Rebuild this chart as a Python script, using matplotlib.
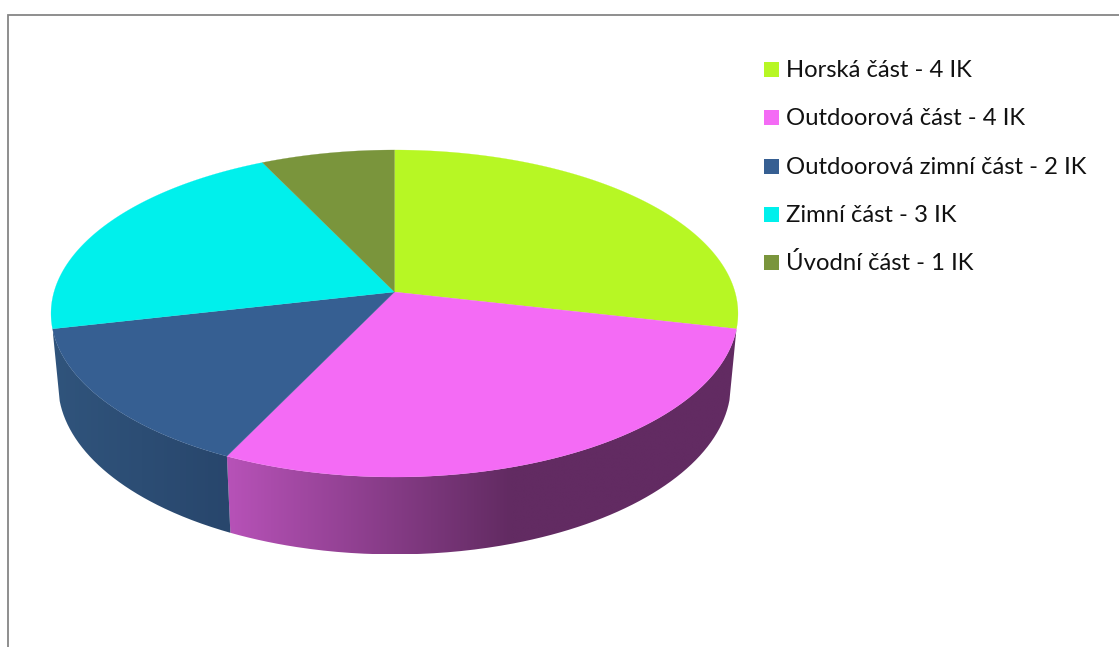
import numpy as np
import matplotlib
matplotlib.use("Agg")
import matplotlib.pyplot as plt
from matplotlib.patches import Polygon, Rectangle, PathPatch
from matplotlib.path import Path

# Pie data, in the order the slices go clockwise from the top.
labels = ["Horská část - 4 IK", "Outdoorová část - 4 IK", "Outdoorová zimní část - 2 IK",
          "Zimní část - 3 IK", "Úvodní část - 1 IK"]
values = [4, 4, 2, 3, 1]
colors = ["#B7F724", "#F46BF5", "#365F92", "#00F0EC", "#7A953C"]

# Side wall shading: colour at the left and right end of the gradient per slice.
side_stops = {1: ("#B752B8", "#622B62"), 2: ("#30547C", "#28466C")}

WIDTH, HEIGHT = 1119, 647
CX, CY = 394.5, 292
TOP_A, TOP_B = 160.7, 340.5
TILT = -0.1315
DEPTH = 70
BOTTOM_A, BOTTOM_B = 167.1, 333.5


def project(angle, bottom=False):
    # angle in radians, clockwise from the top of the pie, with perspective
    u = np.sin(angle)
    v = -np.cos(angle)
    w = 1 + TILT * v
    if bottom:
        return CX + BOTTOM_B * u / w, CY + DEPTH + BOTTOM_A * v / w
    return CX + TOP_B * u / w, CY + TOP_A * v / w


fig = plt.figure(figsize=(WIDTH / 100, HEIGHT / 100), dpi=100)
ax = fig.add_axes([0, 0, 1, 1])

edges = np.cumsum([0] + values) / sum(values) * 2 * np.pi

# Side walls, only for the slices that face the viewer.
for i in range(len(values)):
    start, end = edges[i], edges[i + 1]
    if -np.cos((start + end) / 2) <= 0:
        continue
    t = np.linspace(start, end, 200)
    xt, yt = project(t)
    xb, yb = project(t, bottom=True)
    pts = np.column_stack([np.r_[xt, xb[::-1]], np.r_[yt, yb[::-1]]])
    x0, x1 = pts[:, 0].min(), pts[:, 0].max()
    left, right = [np.array(matplotlib.colors.to_rgb(c)) for c in side_stops[i]]
    xs = np.linspace(x0, x1, 256)
    # the magenta wall stops getting darker part of the way along
    stop = 510 if i == 1 else x1
    frac = np.clip((xs - x0) / (stop - x0), 0, 1)[None, :, None]
    grad = left[None, None, :] * (1 - frac) + right[None, None, :] * frac
    im = ax.imshow(grad, extent=(x0, x1, pts[:, 1].max(), pts[:, 1].min()),
                   aspect="auto", interpolation="bilinear", zorder=2)
    im.set_clip_path(PathPatch(Path(np.r_[pts, pts[:1]]), transform=ax.transData))

# Top surface.
for i in range(len(values)):
    t = np.linspace(edges[i], edges[i + 1], 200)
    xt, yt = project(t)
    pts = np.column_stack([np.r_[CX, xt], np.r_[CY, yt]])
    ax.add_patch(Polygon(pts, closed=True, facecolor=colors[i], edgecolor=colors[i],
                         linewidth=0.15, zorder=3))

# Legend.
for i, label in enumerate(labels):
    base = 77 + i * 48.25
    ax.add_patch(Rectangle((764, base - 15), 15, 15, facecolor=colors[i], edgecolor="none"))
    ax.text(786, base, label, fontsize=17.2, family="Lato", color="#111111", va="baseline", ha="left")

# Chart frame, cropped at the right and bottom.
ax.plot([7.5, 7.5, WIDTH], [HEIGHT, 14.5, 14.5], color="#868686", linewidth=1.3, solid_joinstyle="miter")

ax.set_xlim(0, WIDTH)
ax.set_ylim(HEIGHT, 0)
ax.axis("off")
fig.savefig("out.png", dpi=100, facecolor="white")
